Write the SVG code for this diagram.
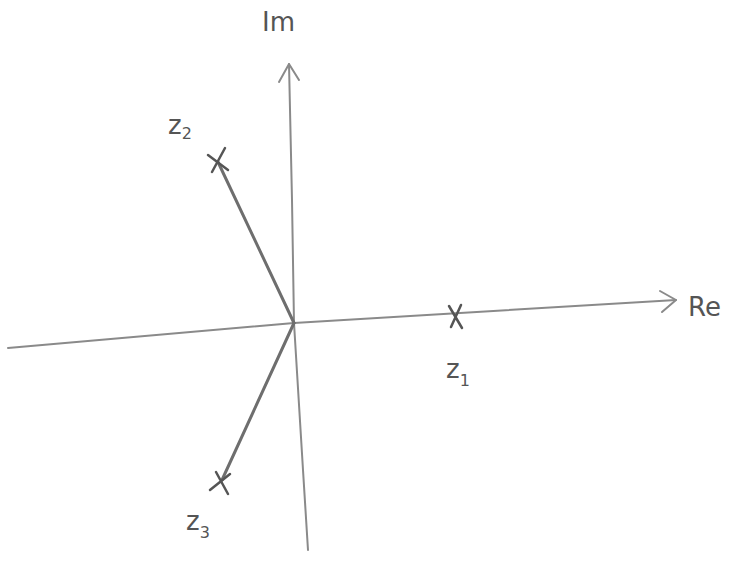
<svg xmlns="http://www.w3.org/2000/svg" width="737" height="579" viewBox="0 0 737 579">
<style>
.ax{stroke:#8a8a8a;stroke-width:2;fill:none;stroke-linecap:round;stroke-linejoin:round}
.vec{stroke:#6e6e6e;stroke-width:3;fill:none;stroke-linecap:round}
.mk{stroke:#555;stroke-width:2.5;fill:none;stroke-linecap:round}
.lb{font-family:"DejaVu Sans","Liberation Sans",sans-serif;fill:#555;font-size:26px}
.sb{font-size:16px}
</style>
<rect width="737" height="579" fill="#fff"/>
<g id="connectors">
<path class="ax" d="M8,348 L294,323 L676,300"/>
<path class="ax" d="M660,291 L676,300 L662,312"/>
<path class="ax" d="M289,64 L292,200 L294,323 L303,470 L308,550"/>
<path class="ax" d="M279,82 L289,64 L299,80"/>
<path class="vec" d="M294,323 L218,162"/>
<path class="vec" d="M294,323 L222,480"/>
</g>
<g id="z1"><path class="mk" d="M449,306 L462,328 M461,305 L451,327"/>
<text class="lb" x="446" y="378">z<tspan class="sb" dy="8">1</tspan></text></g>
<g id="z2"><path class="mk" d="M208,155 L228,170 M225,148 L212,172"/>
<text class="lb" x="168" y="134">z<tspan class="sb" dy="5">2</tspan></text></g>
<g id="z3"><path class="mk" d="M210,490 L230,474 M216,472 L228,494"/>
<text class="lb" x="186" y="530">z<tspan class="sb" dy="8">3</tspan></text></g>
<g id="im"><text class="lb" x="262" y="31">Im</text></g>
<g id="re"><text class="lb" x="688" y="316">Re</text></g>
</svg>
